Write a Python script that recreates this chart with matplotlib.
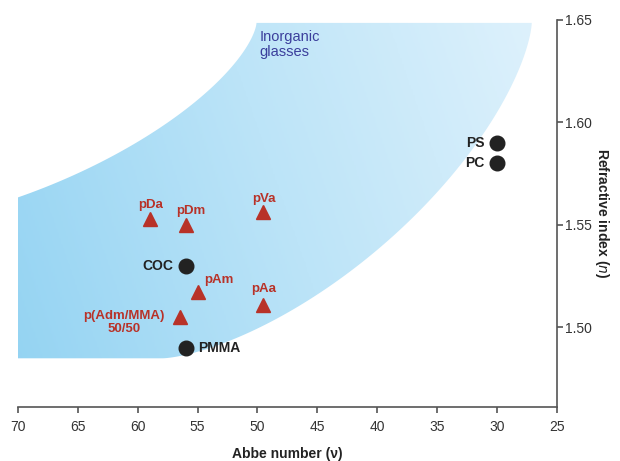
import numpy as np
import matplotlib.pyplot as plt
from matplotlib.patches import Polygon
from matplotlib.colors import LinearSegmentedColormap

plt.rcParams['font.family'] = ['Liberation Sans', 'DejaVu Sans']

# polymers (circles)
poly_names = ["PS", "PC", "COC", "PMMA"]
poly_abbe = [30.0, 30.0, 56.0, 56.0]
poly_n = [1.590, 1.580, 1.530, 1.490]

# new materials (triangles)
new_names = ["pDa", "pDm", "pVa", "pAm", "pAa", "p(Adm/MMA)\n50/50"]
new_abbe = [59.0, 56.0, 49.5, 55.0, 49.5, 56.5]
new_n = [1.553, 1.550, 1.556, 1.517, 1.511, 1.505]

# inorganic glasses band: two superellipse arcs (center x, center y, half-width, half-height)
upper_arc = (79.83, 1.6485, 29.75, 0.098)
lower_arc = (57.92, 1.6485, 30.83, 0.1637)
arc_power = 1.5
band_left = 70

red = '#b83228'
dark = '#222222'


def arc(cx, cy, a, b, n=200):
    # from the top end (vertical tangent) down to the bottom point (flat tangent)
    t = np.linspace(0, np.pi / 2, n)
    x = cx - a * np.cos(t) ** (2 / arc_power)
    y = cy - b * np.sin(t) ** (2 / arc_power)
    return x, y


fig = plt.figure(figsize=(6.2, 4.61), dpi=100)
ax = fig.add_axes([0.029, 0.117, 0.869, 0.84])
ax.set_xlim(70, 25)
ax.set_ylim(1.461, 1.65)

ux, uy = arc(*upper_arc)
keep = ux <= band_left
cx, cy, a, b = upper_arc
u0 = (cx - band_left) / a
y_left = cy - b * (1 - u0 ** arc_power) ** (1 / arc_power)
lx, ly = arc(*lower_arc)

verts = [(band_left, y_left)] + list(zip(ux[keep], uy[keep]))[::-1]
verts += list(zip(lx, ly))
verts += [(band_left, lower_arc[1] - lower_arc[3])]
patch = Polygon(verts, closed=True, facecolor='none', edgecolor='none')
ax.add_patch(patch)
cmap = LinearSegmentedColormap.from_list('glass', ['#93d3f2', '#bce4f8', '#e0f2fc'])
gx, gy = np.meshgrid(np.linspace(0, 1, 300), np.linspace(0, 1, 200))
grad = 0.8 * gx + 0.2 * gy
im = ax.imshow(grad, extent=(70, 25, 1.461, 1.65), origin='lower', aspect='auto',
               cmap=cmap, zorder=1, interpolation='bilinear')
im.set_clip_path(patch)

ax.text(49.8, 1.645, "Inorganic\nglasses", color='#3b3f9c', fontsize=10.5,
        ha='left', va='top', linespacing=1.1, zorder=3)

ax.plot(poly_abbe, poly_n, 'o', color=dark, markersize=10.5, zorder=4, clip_on=False)
ax.plot(new_abbe, new_n, '^', color=red, markersize=10, zorder=4, clip_on=False)

poly_off = [(-9, 0, 'right'), (-9, 0, 'right'), (-9, 0, 'right'), (9, 0, 'left')]
for name, x, y, (dx, dy, ha) in zip(poly_names, poly_abbe, poly_n, poly_off):
    ax.annotate(name, (x, y), xytext=(dx, dy), textcoords='offset points',
                ha=ha, va='center', fontsize=10, fontweight='bold', color=dark, zorder=5)

new_off = [(1, 10), (4, 10), (0, 10), (15, 9), (0, 11), (-40, -4)]
for name, x, y, (dx, dy) in zip(new_names, new_abbe, new_n, new_off):
    ax.annotate(name, (x, y), xytext=(dx, dy), textcoords='offset points',
                ha='center', va='center', fontsize=9.5, fontweight='bold', color=red,
                linespacing=1.2, zorder=5)

ax.spines['top'].set_visible(False)
ax.spines['left'].set_visible(False)
for s in ('bottom', 'right'):
    ax.spines[s].set_color('#555555')
    ax.spines[s].set_linewidth(1.2)
ax.yaxis.tick_right()
ax.yaxis.set_label_position('right')
ax.set_xticks([70, 65, 60, 55, 50, 45, 40, 35, 30, 25])
ax.set_yticks([1.50, 1.55, 1.60, 1.65])
ax.set_yticklabels(["1.50", "1.55", "1.60", "1.65"])
ax.tick_params(colors='#555555', labelcolor='#333333', labelsize=10, length=4, width=1.2)
ax.tick_params(axis='x', pad=5)
ax.tick_params(axis='y', pad=2)
ax.set_xlabel("Abbe number (\u03bd)", fontsize=10, fontweight='bold', color='#222222', labelpad=10)
ax.set_ylabel("Refractive index ($\\mathit{n}$)", fontsize=10, fontweight='bold', color='#222222',
              rotation=270, labelpad=14)

fig.savefig('out.png', dpi=100)
